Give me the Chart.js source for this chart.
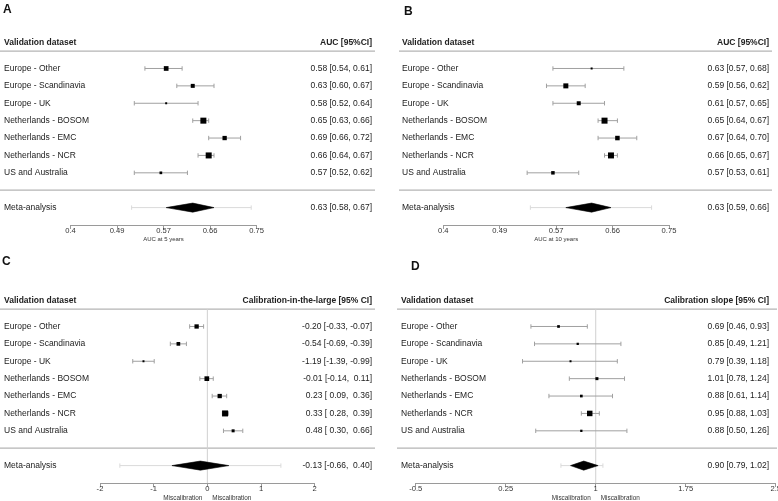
<!DOCTYPE html>
<html><head><meta charset="utf-8">
<script src="https://cdn.jsdelivr.net/npm/chart.js@4.4.1/dist/chart.umd.min.js"></script>
<style>
html,body{margin:0;padding:0;background:#fff;}
body{width:778px;height:501px;position:relative;overflow:hidden;font-family:"Liberation Sans",Arial,sans-serif;}
.panel{position:absolute;width:389px;height:250px;}
.lab{position:absolute;font-weight:bold;font-size:12px;line-height:12px;color:#111;}
</style></head><body>
<div class="panel" style="left:0;top:0"><canvas id="cA"></canvas></div>
<div class="panel" style="left:389px;top:0"><canvas id="cB"></canvas></div>
<div class="panel" style="left:0;top:251px"><canvas id="cC"></canvas></div>
<div class="panel" style="left:389px;top:251px"><canvas id="cD"></canvas></div>
<div class="lab" style="left:3px;top:3px">A</div>
<div class="lab" style="left:404px;top:5px">B</div>
<div class="lab" style="left:2px;top:255px">C</div>
<div class="lab" style="left:411px;top:260px">D</div>
<script>
// ---------------- data ----------------
const datasetNames = ['Europe - Other','Europe - Scandinavia','Europe - UK','Netherlands - BOSOM','Netherlands - EMC','Netherlands - NCR','US and Australia'];
const headerLeft = 'Validation dataset';
const metaLabel = 'Meta-analysis';

// A: AUC at 5 years
const auc5Est = [0.58,0.63,0.58,0.65,0.69,0.66,0.57];
const auc5Lo  = [0.54,0.60,0.52,0.63,0.66,0.64,0.52];
const auc5Hi  = [0.61,0.67,0.64,0.66,0.72,0.67,0.62];
const auc5Weight = [9.4,8,4,12,8.6,12,5.4];
const auc5Meta = [0.63,0.58,0.67];      // est, lo, hi
const auc5Pred = [0.515,0.74];          // prediction interval
const aucTickVals = [0.4,0.4875,0.575,0.6625,0.75];
const aucTickLabels = ['0.4','0.49','0.57','0.66','0.75'];

// B: AUC at 10 years
const auc10Est = [0.63,0.59,0.61,0.65,0.67,0.66,0.57];
const auc10Lo  = [0.57,0.56,0.57,0.64,0.64,0.65,0.53];
const auc10Hi  = [0.68,0.62,0.65,0.67,0.70,0.67,0.61];
const auc10Weight = [4,10,8,12,9,12,7];
const auc10Meta = [0.63,0.59,0.66];
const auc10Pred = [0.535,0.723];

// C: calibration-in-the-large
const citlEst = [-0.20,-0.54,-1.19,-0.01,0.23,0.33,0.48];
const citlLo  = [-0.33,-0.69,-1.39,-0.14,0.09,0.28,0.30];
const citlHi  = [-0.07,-0.39,-0.99,0.11,0.36,0.39,0.66];
const citlWeight = [8.6,7.4,4,9.4,8.6,12,6];
const citlMeta = [-0.13,-0.66,0.40];
const citlPred = [-1.63,1.37];
const citlTickVals = [-2,-1,0,1,2];
const citlTickLabels = ['-2','-1','0','1','2'];

// D: calibration slope
const slopeEst = [0.69,0.85,0.79,1.01,0.88,0.95,0.88];
const slopeLo  = [0.46,0.49,0.39,0.78,0.61,0.88,0.50];
const slopeHi  = [0.93,1.21,1.18,1.24,1.14,1.03,1.26];
const slopeWeight = [5.4,4.6,4,6,5.4,11,4.6];
const slopeMeta = [0.90,0.79,1.02];
const slopePred = [0.71,1.06];
const slopeTickVals = [-0.5,0.25,1,1.75,2.5];
const slopeTickLabels = ['-0.5','0.25','1','1.75','2.5'];

// ---------------- helpers ----------------
const FAM = '"Liberation Sans", Arial, sans-serif';
Chart.defaults.font.family = FAM;
Chart.defaults.color = '#333';

function fmtCol(est, lo, hi) {
  const all = est.concat(lo, hi);
  const f = v => v.toFixed(2);
  const w = Math.max(...all.map(v => f(v).length));
  const p = v => f(v).padStart(w, ' ');
  return est.map((e, i) => p(e) + ' [' + p(lo[i]) + ', ' + p(hi[i]) + ']');
}

const decor = {
  id: 'decor',
  beforeDatasetsDraw(chart, args, o) {
    const {ctx, chartArea, scales: {x, y}} = chart;
    ctx.save();
    ctx.lineWidth = 1.2;
    ctx.strokeStyle = '#b4b4b4';
    o.sepRows.forEach(v => {
      const py = y.getPixelForValue(v);
      ctx.beginPath(); ctx.moveTo(o.sepFrom, py); ctx.lineTo(o.sepTo, py); ctx.stroke();
    });
    if (o.ref !== undefined) {
      const px = x.getPixelForValue(o.ref);
      ctx.lineWidth = 1; ctx.strokeStyle = '#d0d0d0';
      ctx.beginPath(); ctx.moveTo(px, y.getPixelForValue(o.sepRows[0])); ctx.lineTo(px, chartArea.bottom); ctx.stroke();
    }
    const t = x.ticks;
    const p1 = x.getPixelForValue(t[0].value), p2 = x.getPixelForValue(t[t.length - 1].value);
    ctx.lineWidth = 1; ctx.strokeStyle = '#9a9a9a';
    ctx.beginPath(); ctx.moveTo(p1, chartArea.bottom + 0.5); ctx.lineTo(p2, chartArea.bottom + 0.5); ctx.stroke();
    ctx.restore();
  },
  afterDraw(chart, args, o) {
    const {ctx, chartArea, scales: {x}} = chart;
    ctx.save();
    ctx.fillStyle = '#333';
    ctx.textBaseline = 'middle';
    if (o.title) {
      const t = x.ticks;
      const p1 = x.getPixelForValue(t[0].value), p2 = x.getPixelForValue(t[t.length - 1].value);
      ctx.font = '6px ' + FAM;
      ctx.textAlign = 'center';
      ctx.fillText(o.title, (p1 + p2) / 2, chartArea.bottom + 14);
    }
    if (o.sideLabels) {
      const px = x.getPixelForValue(o.ref);
      ctx.font = '6.4px ' + FAM;
      ctx.textAlign = 'right';
      ctx.fillText(o.sideLabels[0], px - 5, chartArea.bottom + 15);
      ctx.textAlign = 'left';
      ctx.fillText(o.sideLabels[1], px + 5, chartArea.bottom + 15);
    }
    ctx.restore();
  }
};

function makePanel(id, c) {
  const n = c.est.length;
  const metaRow = n + 1;
  const rowVals = [-1.5].concat(c.est.map((e, i) => i), [metaRow]);
  const leftLabels = [headerLeft].concat(datasetNames, [metaLabel]);
  const vals = fmtCol(c.est.concat([c.meta[0]]), c.lo.concat([c.meta[1]]), c.hi.concat([c.meta[2]]));
  const rightLabels = [c.header].concat(vals);
  const datasets = [];
  datasets.push({
    type: 'scatter', order: 0,
    data: c.est.map((e, i) => ({x: e, y: i})),
    pointStyle: 'rect', pointRadius: c.weight.map(w => w * 0.5 / Math.SQRT2),
    pointBackgroundColor: '#000', pointBorderWidth: 0, pointHoverRadius: 0
  });
  c.est.forEach((e, i) => {
    datasets.push({
      type: 'line', order: 2,
      data: [{x: c.lo[i], y: i}, {x: c.hi[i], y: i}],
      borderColor: '#a0a0a0', borderWidth: 1,
      pointStyle: 'line', pointRotation: 90, pointRadius: 2.2,
      pointBorderColor: '#a0a0a0', pointBorderWidth: 1, fill: false
    });
  });
  datasets.push({
    type: 'line', order: 3,
    data: [{x: c.pred[0], y: metaRow}, {x: c.pred[1], y: metaRow}],
    borderColor: '#dadada', borderWidth: 1,
    pointStyle: 'line', pointRotation: 90, pointRadius: 2.2,
    pointBorderColor: '#dadada', pointBorderWidth: 1, fill: false
  });
  const h = 0.26;
  datasets.push({
    type: 'line', order: 1,
    data: [{x: c.meta[1], y: metaRow}, {x: c.meta[0], y: metaRow - h}, {x: c.meta[2], y: metaRow},
           {x: c.meta[0], y: metaRow + h}, {x: c.meta[1], y: metaRow}],
    borderColor: '#000', borderWidth: 0.6, backgroundColor: '#000',
    fill: 'shape', pointRadius: 0, tension: 0
  });
  const tickFont = ctx => ({family: FAM, size: 8.5, weight: ctx.index === 0 ? 'bold' : 'normal'});
  const yBase = {
    type: 'linear', min: -2.5, max: 9, reverse: true,
    grid: {display: false, drawTicks: false}, border: {display: false},
    afterFit: s => { s.width = 0; },
    afterBuildTicks: s => { s.ticks = rowVals.map(v => ({value: v})); }
  };
  new Chart(document.getElementById(id), {
    type: 'line',
    data: {datasets},
    plugins: [decor],
    options: {
      responsive: true, maintainAspectRatio: false, animation: false, events: [],
      layout: {padding: {top: c.top, left: 0, right: 0, bottom: 0}, autoPadding: false},
      plugins: {
        legend: {display: false}, tooltip: {enabled: false}, title: {display: false},
        decor: {sepRows: [-1, n], sepFrom: c.sepFrom, sepTo: c.sepTo, ref: c.ref, title: c.xTitle, sideLabels: c.sideLabels}
      },
      scales: {
        x: {
          type: 'linear', min: c.xmin, max: c.xmax,
          border: {display: false},
          grid: {drawOnChartArea: false, drawTicks: true, tickLength: 4, color: '#9a9a9a', lineWidth: 1},
          afterBuildTicks: s => { s.ticks = c.tickVals.map(v => ({value: v})); },
          afterFit: s => { s.height = c.xH; },
          ticks: {autoSkip: false, maxRotation: 0, minRotation: 0, padding: -3,
                  callback: (v, i) => c.tickLabels[i], font: {size: 7.6}, color: '#333'}
        },
        y: Object.assign({}, yBase, {
          position: 'left',
          ticks: {mirror: true, crossAlign: 'near', padding: c.padL, autoSkip: false,
                  callback: (v, i) => leftLabels[i], font: tickFont, color: '#222'}
        }),
        y2: Object.assign({}, yBase, {
          position: 'right',
          ticks: {mirror: true, crossAlign: 'near', padding: c.padR, autoSkip: false,
                  callback: (v, i) => rightLabels[i], font: tickFont, color: '#222'}
        })
      }
    }
  });
}

makePanel('cA', {est: auc5Est, lo: auc5Lo, hi: auc5Hi, weight: auc5Weight, meta: auc5Meta, pred: auc5Pred,
  header: 'AUC [95%CI]', tickVals: aucTickVals, tickLabels: aucTickLabels, xTitle: 'AUC at 5 years',
  xmin: 0.2673, xmax: 0.9993, top: 25, xH: 25, padL: 4, padR: -17, sepFrom: 0, sepTo: 375});
makePanel('cB', {est: auc10Est, lo: auc10Lo, hi: auc10Hi, weight: auc10Weight, meta: auc10Meta, pred: auc10Pred,
  header: 'AUC [95%CI]', tickVals: aucTickVals, tickLabels: aucTickLabels, xTitle: 'AUC at 10 years',
  xmin: 0.3158, xmax: 0.919, top: 25, xH: 25, padL: 13, padR: -9, sepFrom: 10, sepTo: 383});
makePanel('cC', {est: citlEst, lo: citlLo, hi: citlHi, weight: citlWeight, meta: citlMeta, pred: citlPred,
  header: 'Calibration-in-the-large [95% CI]', tickVals: citlTickVals, tickLabels: citlTickLabels,
  ref: 0, sideLabels: ['Miscalibration', 'Miscalibration'],
  xmin: -3.863, xmax: 3.384, top: 32, xH: 18, padL: 4, padR: -17, sepFrom: 0, sepTo: 375});
makePanel('cD', {est: slopeEst, lo: slopeLo, hi: slopeHi, weight: slopeWeight, meta: slopeMeta, pred: slopePred,
  header: 'Calibration slope [95% CI]', tickVals: slopeTickVals, tickLabels: slopeTickLabels,
  ref: 1, sideLabels: ['Miscalibration', 'Miscalibration'],
  xmin: -0.7227, xmax: 2.519, top: 32, xH: 18, padL: 12, padR: -9, sepFrom: 8, sepTo: 388});
</script>
</body></html>
